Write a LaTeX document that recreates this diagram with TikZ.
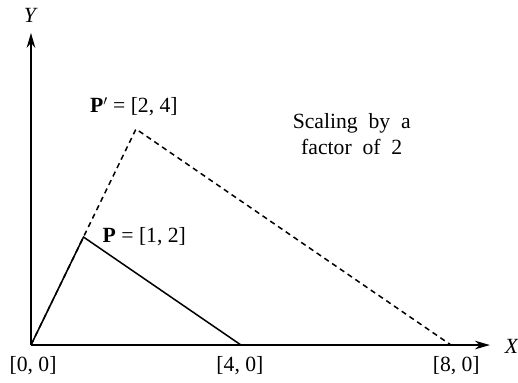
\documentclass[tikz,border=0pt]{standalone}
\usepackage{fontspec}
\setmainfont{Liberation Serif}
\usetikzlibrary{arrows.meta}

\begin{document}
\begin{tikzpicture}[
    x=1.575cm, y=1.62cm,
    font=\fontsize{18.5}{22}\selectfont,
    axis/.style={line width=1.2pt,-{Stealth[length=4.5mm,width=2.6mm]}},
    orig/.style={line width=1.3pt},
    scaled/.style={line width=1.3pt, dash pattern=on 4.5pt off 3.5pt},
    lbl/.style={inner sep=1pt}
  ]

  \path[use as bounding box] (-0.59,-0.685) rectangle (9.276,6.389);

  % =====================================================
  % POINTS
  % =====================================================
  \coordinate (O)  at (0,0);
  \coordinate (P)  at (1,2);
  \coordinate (A)  at (4,0);
  \coordinate (P2) at (2,4);
  \coordinate (A2) at (8,0);
  \coordinate (xend) at (8.74,0);
  \coordinate (yend) at (0,5.78);

  % =====================================================
  % AXES
  % =====================================================
  \draw[axis] (O) -- (xend);
  \draw[axis] (O) -- (yend);
  \node[lbl] (xlab) at (9.16,-0.02) {\textit{X}};
  \node[lbl] (ylab) at (0,6.11) {\textit{Y}};

  % =====================================================
  % TRIANGLES
  % =====================================================
  \draw[orig] (O) -- (P) -- (A);
  \draw[scaled] (O) -- (P2) -- (A2);

  % =====================================================
  % LABELS
  % =====================================================
  \node[lbl] (lO)  at (0.04,-0.39) {[0, 0]};
  \node[lbl] (lA)  at (3.98,-0.39) {[4, 0]};
  \node[lbl] (lA2) at (8.1,-0.39) {[8, 0]};
  \node[lbl, anchor=west] (lP) at (1.34,2.0) {\textbf{P} = [1, 2]};
  \node[lbl] (lP2) at (1.96,4.41) {\textbf{P}$'$ = [2, 4]};
  \node[lbl, align=center] (note) at (6.11,3.9)
  {Scaling\ \ by\ \ a\\factor\ \ of\ \ 2};

\end{tikzpicture}
\end{document}
